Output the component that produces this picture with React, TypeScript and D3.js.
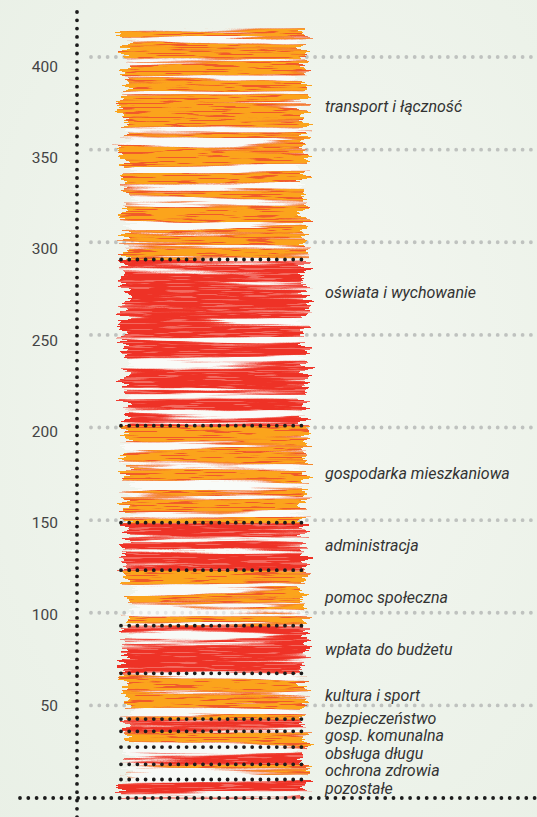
import React from 'react';
import * as d3 from 'd3';

// ---- data (values in mln zł), bottom to top ----
const categories = [
  'pozostałe',
  'ochrona zdrowia',
  'obsługa długu',
  'gosp. komunalna',
  'bezpieczeństwo',
  'kultura i sport',
  'wpłata do budżetu',
  'pomoc społeczna',
  'administracja',
  'gospodarka mieszkaniowa',
  'oświata i wychowanie',
  'transport i łączność',
];
const values = [10, 8.2, 9.3, 8.5, 6.6, 24.7, 25.7, 30, 25.6, 52.4, 89.7, 124.8];
const tickValues = [50, 100, 150, 200, 250, 300, 350, 400];

// ---- layout / style ----
const W = 537;
const H = 817;
const labelAnchor = [0.5, 0.5, 0.5, 0.5, 0.5, 0.5, 0.5, 0.5, 0.5, 0.5, 0.8, 0.66];
const mainColors = ['#ee3326', '#fba41e'];
const fringeColors = ['#f36b60', '#f15a2a'];

export default function App() {
  const y = d3.scaleLinear().domain([0, 400]).range([798, 57]);
  const yTickText = d3.scaleLinear().domain([0, 400]).range([797, 66]);
  const x = d3.scaleBand().domain(['budżet']).range([124, 305]).padding(0);
  const row: any = { key: 'budżet' };
  categories.forEach((c, i) => (row[c] = values[i]));
  const series = d3.stack().keys(categories)([row]);
  const bx = x('budżet') as number;
  const bw = x.bandwidth();

  // label positions: anchor within segment, then push apart bottom-up
  const minGap = 17.5;
  const labelY: number[] = [];
  series.forEach((s, i) => {
    const [a, b] = s[0];
    let ly = y(a + (b - a) * labelAnchor[i]);
    if (i === 0) ly = Math.min(ly, y(0) - 9);
    if (i > 0) ly = Math.min(ly, labelY[i - 1] - minGap);
    labelY.push(ly);
  });

  const total = series[series.length - 1][0][1];
  const dotLine = (x1: number, y1: number, x2: number, y2: number, color: string, gap: number, w: number, key: string) => (
    <line key={key} x1={x1} y1={y1} x2={x2} y2={y2} stroke={color} strokeWidth={w}
      strokeLinecap="round" strokeDasharray={`0 ${gap}`} />
  );

  const displace = (input: string) => (
    <>
      <feTurbulence type="fractalNoise" baseFrequency="0.012 0.3" numOctaves={3} seed={11} result="d0" />
      <feColorMatrix in="d0" type="matrix" values="1 0 0 0 0  0 0 0 0 0.5  0 0 0 0 0  0 0 0 0 1" result="d" />
      <feDisplacementMap in={input} in2="d" scale={30} xChannelSelector="R" yChannelSelector="G" />
    </>
  );

  const filt = (id: string, thr: number, seed: number, fine: boolean) => (
    <filter id={id} filterUnits="userSpaceOnUse" primitiveUnits="userSpaceOnUse" x={90} y={10} width={250} height={800}>
      <feTurbulence type="fractalNoise" baseFrequency="0.0035 0.11" numOctaves={4} seed={seed} result="n" />
      <feColorMatrix in="n" type="matrix"
        values={`0 0 0 0 0  0 0 0 0 0  0 0 0 0 0  12 0 0 0 ${-thr}`} result="m" />
      {fine ? (
        <>
          <feTurbulence type="fractalNoise" baseFrequency="0.025 0.7" numOctaves={2} seed={9} result="f" />
          <feColorMatrix in="f" type="matrix"
            values="0 0 0 0 0  0 0 0 0 0  0 0 0 0 0  14 0 0 0 -5.0" result="m2" />
          <feComposite in="m" in2="m2" operator="in" result="mm" />
          <feComposite in="SourceGraphic" in2="mm" operator="in" result="s" />
        </>
      ) : (
        <feComposite in="SourceGraphic" in2="m" operator="in" result="s" />
      )}
      {displace('s')}
    </filter>
  );

  return (
    <svg width={W} height={H} style={{ position: 'absolute', left: 0, top: 0 }}
      fontFamily="Roboto, 'Noto Sans', sans-serif">
      <defs>
        <radialGradient id="bg" cx="0.55" cy="0.45" r="0.8">
          <stop offset="0" stopColor="#f4f7f1" />
          <stop offset="1" stopColor="#e9f0e6" />
        </radialGradient>
        {filt('fringeF', 4.6, 5, false)}
        {filt('mainF', 5.0, 5, true)}
        <filter id="edgeF" filterUnits="userSpaceOnUse" primitiveUnits="userSpaceOnUse" x={90} y={10} width={250} height={800}>
          {displace('SourceGraphic')}
        </filter>
      </defs>
      <rect width={W} height={H} fill="url(#bg)" />

      {/* grey grid */}
      {tickValues.map((t) => dotLine(91, y(t), W + 4, y(t), '#bfc2bf', 8.3, 3.8, `g${t}`))}

      {/* white underlay of brush */}
      <rect x={bx + 6} y={y(total) + 4} width={bw - 12} height={y(0) - y(total) - 6}
        fill="#ffffff" opacity={0.6} filter="url(#edgeF)" />

      {/* brush fringe layer */}
      <g filter="url(#fringeF)">
        {series.map((s, i) => (
          <rect key={s.key} x={bx} y={y(s[0][1])} width={bw} height={y(s[0][0]) - y(s[0][1]) + 0.5}
            fill={fringeColors[i % 2]} />
        ))}
      </g>
      {/* brush main layer */}
      <g filter="url(#mainF)">
        {series.map((s, i) => (
          <rect key={s.key} x={bx} y={y(s[0][1])} width={bw} height={y(s[0][0]) - y(s[0][1]) + 0.5}
            fill={mainColors[i % 2]} />
        ))}
      </g>

      {/* black dotted separators */}
      {series.slice(0, -1).map((s) => dotLine(121, y(s[0][1]), 304, y(s[0][1]), '#1c1c1c', 8.2, 3.8, `sep${s.key}`))}

      {/* axes */}
      {dotLine(77, 12, 77, H + 4, '#1c1c1c', 8.3, 3.8, 'yaxis')}
      {dotLine(20, y(0), W + 4, y(0), '#1c1c1c', 8.3, 3.8, 'xaxis')}

      {/* tick labels */}
      {tickValues.map((t) => (
        <text key={`t${t}`} x={58} y={yTickText(t) + 5.5} textAnchor="end" fontSize={15.5} fill="#444">{t}</text>
      ))}

      {/* category labels */}
      {series.map((s, i) => (
        <text key={`l${s.key}`} x={325} y={labelY[i] + 5} fontSize={16} fontStyle="italic" fill="#333">
          {s.key}
        </text>
      ))}
    </svg>
  );
}
